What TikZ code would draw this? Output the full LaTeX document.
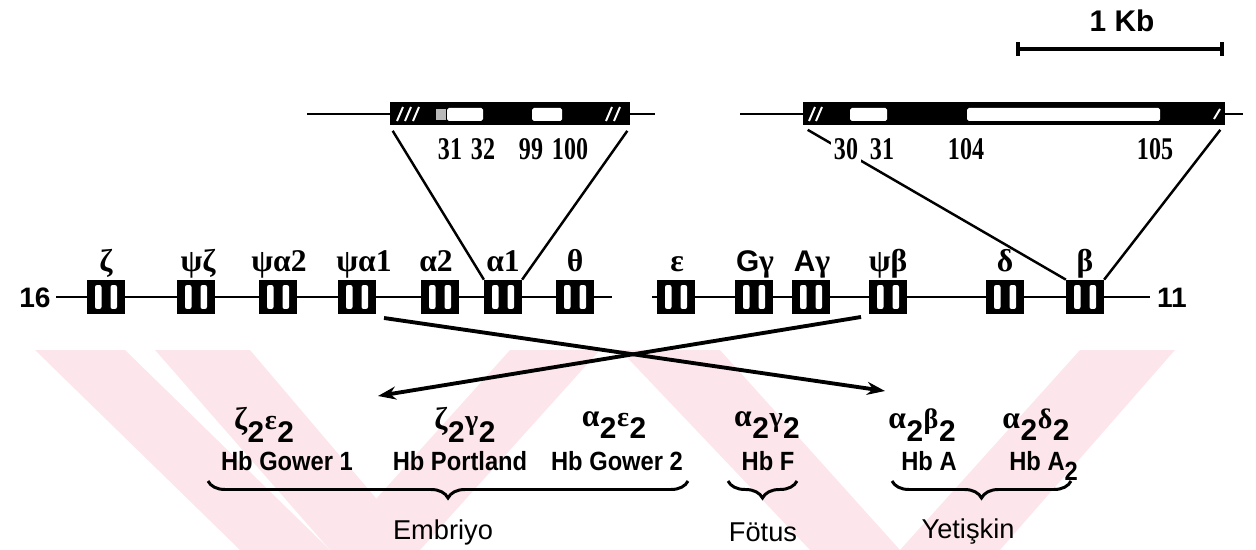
\documentclass[tikz,border=0pt]{standalone}
\usepackage{fontspec}
\setmainfont{Liberation Sans}
\newfontfamily\serif{Liberation Serif}
\newfontfamily\narrowserif[FakeStretch=0.76]{Liberation Serif}
\newfontfamily\narrowsans[FakeStretch=0.9]{Liberation Sans}
\usetikzlibrary{arrows.meta,decorations.pathreplacing}

\definecolor{wm}{RGB}{252,230,235}

% chain pair such as alpha_2 gamma_2
\newcommand\chainpair[2]{{\serif\fontsize{18}{18}\selectfont #1}\kern0.3pt\raisebox{-7pt}{\bfseries 2}\kern0.3pt{\serif\fontsize{16}{16}\selectfont #2}\kern0.3pt\raisebox{-7pt}{\bfseries 2}}

\tikzset{
  gene/.style={rectangle, fill=black, minimum width=0.75cm, minimum height=0.68cm, inner sep=0pt,
    path picture={
      \fill[white,rounded corners=1.2pt] ([xshift=-0.22cm,yshift=-0.24cm]path picture bounding box.center) rectangle ++(0.13cm,0.48cm);
      \fill[white,rounded corners=1.2pt] ([xshift=0.09cm,yshift=-0.24cm]path picture bounding box.center) rectangle ++(0.13cm,0.48cm);
    }},
  glabel/.style={anchor=base, inner sep=0pt, font=\serif\bfseries\fontsize{18}{18}\selectfont},
  chrom/.style={line width=1.5pt},
  exonbar/.style={fill=black, inner sep=0pt, minimum height=0.46cm},
  flank/.style={line width=1.4pt},
  hatch/.style={white, line width=1.1pt},
  codon/.style={inner sep=1.5pt, font=\narrowserif\bfseries\fontsize{18}{18}\selectfont},
  zoomline/.style={line width=1.4pt},
  cross/.style={line width=2.2pt, -{Stealth[length=0.36cm,width=0.26cm]}},
  formula/.style={inner sep=0pt, font=\bfseries\fontsize{17}{17}\selectfont},
  hbname/.style={inner sep=0pt, font=\narrowsans\bfseries\fontsize{15}{15}\selectfont},
  stage/.style={inner sep=0pt, font=\fontsize{15.5}{16}\selectfont},
  grp/.style={line width=1.7pt, decorate, decoration={brace, mirror, amplitude=0.34cm}},
  endlabel/.style={inner sep=0pt, font=\bfseries\fontsize{16}{16}\selectfont}
}

\begin{document}
\begin{tikzpicture}[x=0.02cm, y=-0.02cm]
\useasboundingbox (0,0) rectangle (1256,550);

% background watermark bands
\fill[wm] (35,350) -- (125,350) -- (330,550) -- (240,550) -- cycle;
\fill[wm] (155,350) -- (250,350) -- (420,550) -- (330,550) -- cycle;
\fill[wm] (330,550) -- (420,550) -- (600,350) -- (510,350) -- cycle;
\fill[wm] (620,350) -- (720,350) -- (900,550) -- (810,550) -- cycle;
\fill[wm] (900,550) -- (1000,550) -- (1175,350) -- (1080,350) -- cycle;

% scale bar
\node[endlabel, font=\bfseries\fontsize{17}{17}\selectfont] (kb) at (1122,21) {1 Kb};
\coordinate (sbl) at (1018,49);
\coordinate (sbr) at (1222,49);
\draw[line width=1.8pt] (sbl) -- (sbr);
\draw[line width=1.8pt] ([yshift=0.14cm]sbl) -- ([yshift=-0.14cm]sbl);
\draw[line width=1.8pt] ([yshift=0.14cm]sbr) -- ([yshift=-0.14cm]sbr);

% alpha-globin gene structure
\node[exonbar, minimum width=4.8cm] (abar) at (510,114) {};
\coordinate (al0) at (307,114);
\coordinate (ar0) at (655,114);
\draw[flank] (al0) -- (abar.west);
\draw[flank] (abar.east) -- (ar0);
\foreach \h in {397,405,413} \draw[hatch] (\h,121) -- (\h+6,107);
\foreach \h in {606,614} \draw[hatch] (\h,121) -- (\h+6,107);
\fill[gray!55] (436,109) rectangle (446,120);
\fill[white, rounded corners=1pt] (447,108) rectangle (483,121);
\fill[white, rounded corners=1pt] (532,108) rectangle (562,121);

% beta-globin gene structure
\node[exonbar, minimum width=8.44cm] (bbar) at (1014,114) {};
\coordinate (bl0) at (740,114);
\coordinate (br0) at (1243,114);
\draw[flank] (bl0) -- (bbar.west);
\draw[flank] (bbar.east) -- (br0);
\foreach \h in {809,816} \draw[hatch] (\h,121) -- (\h+6,107);
\draw[hatch] (1214,119) -- (1220,109);
\fill[white, rounded corners=1pt] (850,108) rectangle (887,121);
\fill[white, rounded corners=1pt] (967,108) rectangle (1160,121);

% chromosome 16 cluster
\node[endlabel] (c16) at (35,298) {16};
\coordinate (l16a) at (56,297);
\coordinate (l16b) at (612,297);
\draw[chrom] (l16a) -- (l16b);
\foreach \n/\x in {z/106, pz/196, pa2/278, pa1/357, a2/440, a1/503, th/575}
  \node[gene] (\n) at (\x,297) {};

% chromosome 11 cluster
\node[endlabel] (c11) at (1172,298) {11};
\coordinate (l11a) at (652,297);
\coordinate (l11b) at (1150,297);
\draw[chrom] (l11a) -- (l11b);
\foreach \n/\x in {e/676, gg/754, ag/811, pb/888, d/1005, b/1085}
  \node[gene] (\n) at (\x,297) {};

% gene names
\node[glabel] at (106,272) {ζ};
\node[glabel] at (198,272) {ψζ};
\node[glabel] at (279,272) {ψα2};
\node[glabel] at (364,272) {ψα1};
\node[glabel] at (436,272) {α2};
\node[glabel] at (503,272) {α1};
\node[glabel] at (575,272) {θ};
\node[glabel] at (677,272) {ε};
\node[glabel] at (755,272) {{\fontspec{Liberation Sans}\bfseries\fontsize{17}{17}\selectfont G}γ};
\node[glabel] at (812,272) {{\fontspec{Liberation Sans}\bfseries\fontsize{17}{17}\selectfont A}γ};
\node[glabel] at (888,272) {ψβ};
\node[glabel] at (1005,272) {δ};
\node[glabel] at (1085,272) {β};

% zoom lines from the expanded genes to the cluster
\draw[zoomline] ([xshift=0.06cm,yshift=-0.1cm]abar.south west) -- (a1.north west);
\draw[zoomline] ([xshift=-0.06cm,yshift=-0.1cm]abar.south east) -- (a1.north east);
\draw[zoomline] ([xshift=0.1cm,yshift=-0.08cm]bbar.south west) -- (b.north west);
\draw[zoomline] ([xshift=-0.1cm,yshift=-0.08cm]bbar.south east) -- (b.north east);

% codon positions
\node[codon] (n31a) at (450,149) {31};
\node[codon] (n32a) at (483,149) {32};
\node[codon] (n99) at (531,149) {99};
\node[codon] (n100) at (570,149) {100};
\node[codon, fill=white] (n30) at (846,149) {30};
\node[codon] (n31b) at (882,149) {31};
\node[codon] (n104) at (966,149) {104};
\node[codon] (n105) at (1155,149) {105};

% crossing arrows to the haemoglobin types
\coordinate (sa) at (384,318);
\coordinate (ta) at (885,391);
\coordinate (sb) at (861,317);
\coordinate (tb) at (378,396);
\draw[cross] (sa) -- (ta);
\draw[cross] (sb) -- (tb);

% haemoglobin chain composition
\node[formula] (f1) at (264,425) {\chainpair{ζ}{ε}};
\node[formula] (f2) at (465,425) {\chainpair{ζ}{γ}};
\node[formula] (f3) at (614,425) {\chainpair{α}{ε}};
\node[formula] (f4) at (767,425) {\chainpair{α}{γ}};
\node[formula] (f5) at (922,425) {\chainpair{α}{β}};
\node[formula] (f6) at (1036,425) {\chainpair{α}{δ}};

\node[hbname] (h1) at (287,461) {Hb Gower 1};
\node[hbname] (h2) at (460,461) {Hb Portland};
\node[hbname] (h3) at (617,461) {Hb Gower 2};
\node[hbname] (h4) at (768,461) {Hb F};
\node[hbname] (h5) at (929,461) {Hb A};
\node[hbname, anchor=base west] (h6) at (1009,470) {Hb A\raisebox{-6pt}{2}};

% developmental stage groups
\coordinate (e1) at (208,481);
\coordinate (e2) at (688,481);
\coordinate (f1a) at (728,481);
\coordinate (f2a) at (797,481);
\coordinate (y1) at (892,481);
\coordinate (y2) at (1071,481);
\draw[grp] (e1) -- (e2);
\draw[grp] (f1a) -- (f2a);
\draw[grp] (y1) -- (y2);

\node[stage] (s1) at (443,532) {Embriyo};
\node[stage] (s2) at (763,532) {Fötus};
\node[stage] (s3) at (968,532) {Yetişkin};
\end{tikzpicture}
\end{document}
